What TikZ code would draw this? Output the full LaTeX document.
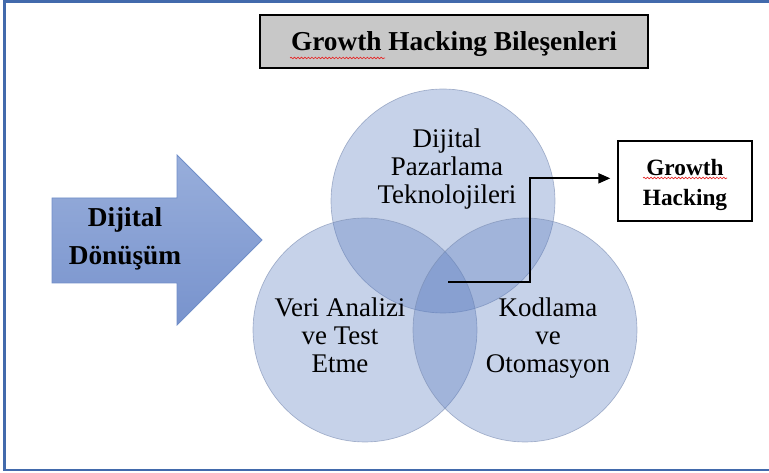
\documentclass[tikz,border=0pt]{standalone}
\usepackage{fontspec}
\setmainfont{Liberation Serif}
\usetikzlibrary{arrows.meta,decorations.pathmorphing}

\definecolor{framec}{RGB}{66,106,172}
\definecolor{circfill}{RGB}{88,122,190}
\definecolor{circedge}{RGB}{120,138,175}
\definecolor{arrtop}{RGB}{152,174,219}
\definecolor{arrbot}{RGB}{120,147,205}
\definecolor{arredge}{RGB}{112,142,200}
\definecolor{titlefill}{RGB}{200,200,200}
\definecolor{spellred}{RGB}{230,40,40}

\tikzset{
  venn/.style={circle, minimum size=168pt, inner sep=0pt,
    fill=circfill, fill opacity=0.34, draw=circedge, draw opacity=0.6, line width=0.5pt},
  venntext/.style={align=center, font=\fontsize{20.2pt}{21pt}\selectfont},
  boldbox/.style={draw=black, inner sep=0pt},
  spell/.style={draw=spellred, line width=0.5pt,
    decorate, decoration={snake, amplitude=0.6pt, segment length=2.6pt}},
  link/.style={draw=black, line width=1.5pt, -{Triangle[length=9pt,width=7.5pt]}}
}

\begin{document}
\begin{tikzpicture}[x=0.75pt,y=-0.75pt]
\useasboundingbox (0,0) rectangle (769,473);

% page frame (left, top, bottom; open to the right)
\draw[framec, line width=2.2pt] (772,1.8) -- (4.5,1.8) -- (4.5,470) -- (772,470);

% title
\node[boldbox, fill=titlefill, line width=1.5pt, minimum width=291pt, minimum height=40pt]
      (title) at (454,41.5) {};
\node[font=\fontsize{20.5pt}{24pt}\selectfont\bfseries] (titletext) at (454,44)
      {Growth Hacking Bileşenleri};
\draw[spell] (290,58) -- (385,58);

% large block arrow
\path[top color=arrtop, bottom color=arrbot, draw=arredge, line width=0.6pt]
  (52,198) -- (177,198) -- (177,155) -- (262,240) -- (177,325) -- (177,283) -- (52,283) -- cycle;
\node[align=center, font=\fontsize{20.5pt}{28.5pt}\selectfont\bfseries] (dd) at (125,239)
  {Dijital\\Dönüşüm};

% three overlapping circles
\node[venn] (ctop) at (443,201) {};
\node[venn] (cleft) at (365,330) {};
\node[venn] (cright) at (525,330) {};

\node[venntext] (ttop) at (447,169) {Dijital\\Pazarlama\\Teknolojileri};
\node[venntext] (tleft) at (340,335) {Veri Analizi\\ve Test\\Etme};
\node[venntext] (tright) at (548,338) {Kodlama\\ve\\Otomasyon};

% result box
\node[boldbox, fill=white, line width=1.5pt, minimum width=100.5pt, minimum height=60pt]
      (gh) at (685,181) {};
\node[align=center, font=\fontsize{17.5pt}{22.5pt}\selectfont\bfseries] (ghtext) at (685,185)
      {Growth\\Hacking};
\draw[spell] (643,178) -- (727,178);

% connector from the common area to the result box
\coordinate (core) at (448,282);
\coordinate (bend) at (530,282);
\draw[link] (core) -- (bend) |- ([xshift=-5pt,yshift=2pt]gh.west);
\end{tikzpicture}
\end{document}
